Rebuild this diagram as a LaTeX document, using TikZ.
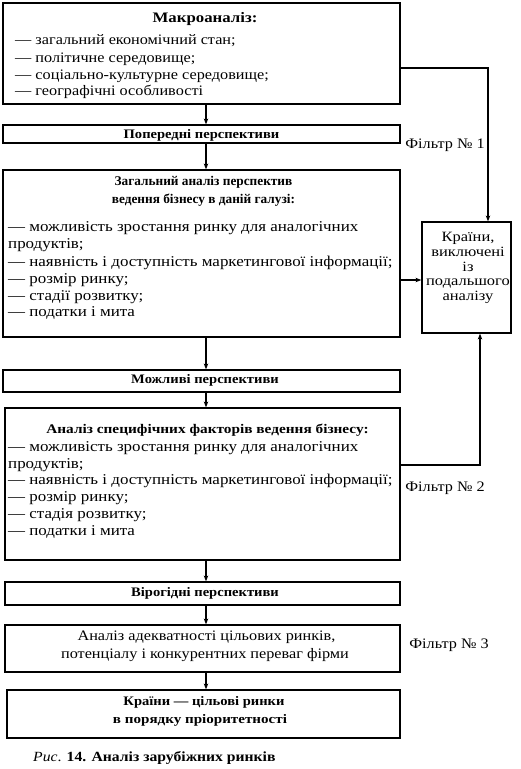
\documentclass[tikz,border=0pt]{standalone}
\usepackage{fontspec}
\setmainfont{Liberation Serif}
\newfontfamily\wideA[FakeStretch=1.12]{Liberation Serif}
\newfontfamily\wideB[FakeStretch=1.16]{Liberation Serif}
\newfontfamily\wideC[FakeStretch=1.13]{Liberation Serif}
\usetikzlibrary{arrows.meta}
\begin{document}
\begin{tikzpicture}[x=1pt,y=-1pt,
  box/.style={draw,line width=1.2pt,inner sep=0pt,minimum width=#1},
  box/.default=397pt,
  itm/.style={anchor=west,inner sep=0pt,font=\wideA\fontsize{14.5}{16}\selectfont},
  itmb/.style={anchor=west,inner sep=0pt,font=\wideC\fontsize{15}{16}\selectfont},
  ttl/.style={inner sep=0pt,font=\wideA\fontsize{13}{16}\selectfont\bfseries},
  arr/.style={line width=1.2pt,-{Stealth[length=6pt,width=4.5pt]}},
  flt/.style={inner sep=0pt,font=\wideA\fontsize{14.5}{16}\selectfont}]
\useasboundingbox (0,0) rectangle (521,769);
% boxes
\node[box,minimum height=101pt] (b1) at (201.5,53.5) {};
\node[box,minimum height=18pt] (b2) at (201.5,134) {};
\node[box,minimum height=167pt] (b3) at (201.5,253.5) {};
\node[box=89pt,minimum height=111pt] (kr) at (466.5,277.5) {};
\node[box,minimum height=22pt] (b4) at (201.5,381) {};
\node[box=395pt,minimum height=152pt] (b5) at (202.5,484) {};
\node[box=395pt,minimum height=23pt] (b6) at (202.5,593.5) {};
\node[box=395pt,minimum height=47pt] (b7) at (202.5,648.5) {};
\node[box=393pt,minimum height=48pt] (b8) at (203.5,714) {};
% texts box1
\node[inner sep=0pt,font=\wideB\fontsize{14.5}{16}\selectfont\bfseries] (t1) at (205,19) {Макроаналіз:};
\node[itm] (t1a) at (15,41) {— загальний економічний стан;};
\node[itm] (t1b) at (15,59) {— політичне середовище;};
\node[itm] (t1c) at (15,76) {— соціально-культурне середовище;};
\node[itm] (t1d) at (15,92) {— географічні особливості};
% box2
\node[ttl] (t2) at (201.5,135) {Попередні перспективи};
% box3
\node[inner sep=0pt,font=\fontsize{13.3}{16}\selectfont\bfseries] (t3a) at (203.5,182) {Загальний аналіз перспектив};
\node[inner sep=0pt,font=\fontsize{13.3}{16}\selectfont\bfseries] (t3b) at (203.5,200) {ведення бізнесу в даній галузі:};
\node[itmb] (t3c) at (8,228) {— можливість зростання ринку для аналогічних};
\node[itmb] (t3d) at (8,245) {продуктів;};
\node[itmb] (t3e) at (8,263) {— наявність і доступність маркетингової інформації;};
\node[itmb] (t3f) at (8,280) {— розмір ринку;};
\node[itmb] (t3g) at (8,297) {— стадії розвитку;};
\node[itmb] (t3h) at (8,313) {— податки і мита};
% kr
\node[inner sep=0pt,align=center,font=\wideB\fontsize{14.2}{14.8}\selectfont] (tk) at (468,268) {Країни,\\виключені\\із\\подальшого\\аналізу};
% box4
\node[ttl] (t4) at (205,380) {Можливі перспективи};
% box5
\node[inner sep=0pt,font=\wideB\fontsize{13.2}{16}\selectfont\bfseries] (t5) at (207.5,430) {Аналіз специфічних факторів ведення бізнесу:};
\node[itmb] (t5a) at (8,448) {— можливість зростання ринку для аналогічних};
\node[itmb] (t5b) at (8,465) {продуктів;};
\node[itmb] (t5c) at (8,481) {— наявність і доступність маркетингової інформації;};
\node[itmb] (t5d) at (8,498) {— розмір ринку;};
\node[itmb] (t5e) at (8,515) {— стадія розвитку;};
\node[itmb] (t5f) at (8,532) {— податки і мита};
% box6
\node[ttl] (t6) at (205,593) {Вірогідні перспективи};
% box7
\node[inner sep=0pt,font=\wideA\fontsize{14.5}{16}\selectfont] (t7a) at (206.5,637) {Аналіз адекватності цільових ринків,};
\node[inner sep=0pt,font=\wideA\fontsize{14.5}{16}\selectfont] (t7b) at (205,655) {потенціалу і конкурентних переваг фірми};
% box8
\node[ttl] (t8a) at (204,702) {Країни — цільові ринки};
\node[inner sep=0pt,font=\wideB\fontsize{13}{16}\selectfont\bfseries] (t8b) at (200,720) {в порядку пріоритетності};
% filters
\node[flt] (f1) at (445,145) {Фільтр № 1};
\node[flt] (f2) at (445,488) {Фільтр № 2};
\node[flt] (f3) at (449,645) {Фільтр № 3};
% caption
\node[anchor=west,inner sep=0pt,font=\wideA\fontsize{14}{16}\selectfont] (cap) at (33,758) {\textit{Рис}. \textbf{14. Аналіз зарубіжних ринків}};
% coordinates
\coordinate (c1) at (488,68);
\coordinate (c2) at (480,465);
% arrows
\draw[arr] (b1.south -| 206,0) -- (b2.north -| 206,0);
\draw[arr] (b2.south -| 206,0) -- (b3.north -| 206,0);
\draw[arr] (b3.south -| 206,0) -- (b4.north -| 206,0);
\draw[arr] (b4.south -| 206,0) -- (b5.north -| 206,0);
\draw[arr] (b5.south -| 206,0) -- (b6.north -| 206,0);
\draw[arr] (b6.south -| 206,0) -- (b7.north -| 206,0);
\draw[arr] (b7.south -| 206,0) -- (b8.north -| 206,0);
\draw[arr] (b1.east |- c1) -- (c1) -- (kr.north -| c1);
\draw[arr] (b3.east |- 0,280) -- (kr.west |- 0,280);
\draw[arr] (b5.east |- c2) -- (c2) -- (kr.south -| c2);
\end{tikzpicture}
\end{document}
